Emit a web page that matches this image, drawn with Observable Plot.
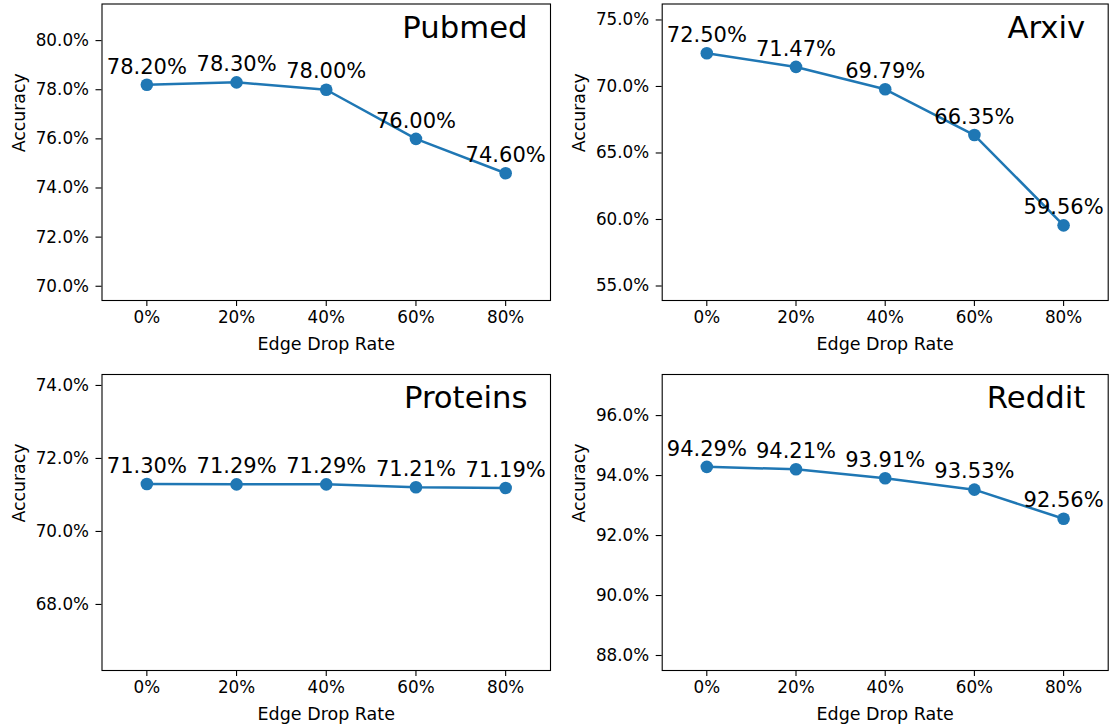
<!DOCTYPE html>
<html>
<head>
<meta charset="utf-8">
<script src="https://cdn.jsdelivr.net/npm/d3@7"></script>
<script src="https://cdn.jsdelivr.net/npm/@observablehq/plot@0.6"></script>
<style>
  html, body { margin: 0; padding: 0; background: white; }
  #wrap { position: relative; width: 1109px; height: 727px; background: white; overflow: hidden; }
  #wrap > div { position: absolute; }
  svg { overflow: visible; }
</style>
</head>
<body>
<div id="wrap">
  <div id="p0" style="left:0px;top:0px"></div>
  <div id="p1" style="left:555px;top:0px"></div>
  <div id="p2" style="left:0px;top:362px"></div>
  <div id="p3" style="left:555px;top:362px"></div>
</div>
<script>
// ---- data ----
const rates = ["0%", "20%", "40%", "60%", "80%"];
const titles = ["Pubmed", "Arxiv", "Proteins", "Reddit"];
const pubmed   = [78.20, 78.30, 78.00, 76.00, 74.60];
const arxiv    = [72.50, 71.47, 69.79, 66.35, 59.56];
const proteins = [71.30, 71.29, 71.29, 71.21, 71.19];
const reddit   = [94.29, 94.21, 93.91, 93.53, 92.56];
const ticksPubmed   = [70, 72, 74, 76, 78, 80];
const ticksArxiv    = [55, 60, 65, 70, 75];
const ticksProteins = [68, 70, 72, 74];
const ticksReddit   = [88, 90, 92, 94, 96];
const xLabel = "Edge Drop Rate";
const yLabel = "Accuracy";

const blue = "#1f77b4";
const font = "DejaVu Sans";

function panel({title, values, yDomain, yTicks, width, height, ml, mr, mt, mb}) {
  const data = values.map((v, i) => ({i, v, label: v.toFixed(2) + "%"}));
  const idx = rates.map((_, i) => i);
  return Plot.plot({
    width, height,
    marginLeft: ml, marginRight: mr, marginTop: mt, marginBottom: mb,
    style: {fontFamily: font, fontSize: "16.8px", color: "black", background: "white", overflow: "visible"},
    x: {domain: [-0.5, rates.length - 0.5]},
    y: {domain: yDomain},
    marks: [
      Plot.axisX({ticks: idx, tickFormat: i => rates[i], tickSize: 6, tickPadding: 5, label: null, fontSize: 16.8, strokeWidth: 1.1}),
      Plot.axisY({ticks: yTicks, tickFormat: d => d.toFixed(1) + "%", tickSize: 6, tickPadding: 7, label: null, fontSize: 16.8, strokeWidth: 1.1}),
      Plot.frame({stroke: "black", strokeWidth: 1.1}),
      Plot.line(data, {x: "i", y: "v", stroke: blue, strokeWidth: 2.5}),
      Plot.dot(data, {x: "i", y: "v", r: 6.3, fill: blue}),
      Plot.text(data, {x: "i", y: "v", text: "label", dy: -18, fontSize: 21, lineAnchor: "middle"}),
      Plot.text([title], {frameAnchor: "top-right", text: d => d, textAnchor: "end", lineAnchor: "middle", dx: -23, dy: 24, fontSize: 30.7}),
      Plot.text([xLabel], {frameAnchor: "bottom", text: d => d, lineAnchor: "middle", dy: 44, fontSize: 17.5}),
      Plot.text([yLabel], {frameAnchor: "left", text: d => d, rotate: -90, lineAnchor: "middle", dx: -83, fontSize: 17.3})
    ]
  });
}

document.getElementById("p0").appendChild(panel({
  title: titles[0], values: pubmed, yDomain: [69.42, 81.49], yTicks: ticksPubmed,
  width: 555, height: 362, ml: 101.5, mr: 5, mt: 3.5, mb: 62
}));
document.getElementById("p1").appendChild(panel({
  title: titles[1], values: arxiv, yDomain: [53.91, 76.2], yTicks: ticksArxiv,
  width: 554, height: 362, ml: 106.7, mr: 1.3, mt: 3.5, mb: 62
}));
document.getElementById("p2").appendChild(panel({
  title: titles[2], values: proteins, yDomain: [66.19, 74.3], yTicks: ticksProteins,
  width: 555, height: 365, ml: 101.5, mr: 5, mt: 12, mb: 57
}));
document.getElementById("p3").appendChild(panel({
  title: titles[3], values: reddit, yDomain: [87.5, 97.37], yTicks: ticksReddit,
  width: 554, height: 365, ml: 106.7, mr: 1.3, mt: 12, mb: 57
}));
</script>
</body>
</html>
